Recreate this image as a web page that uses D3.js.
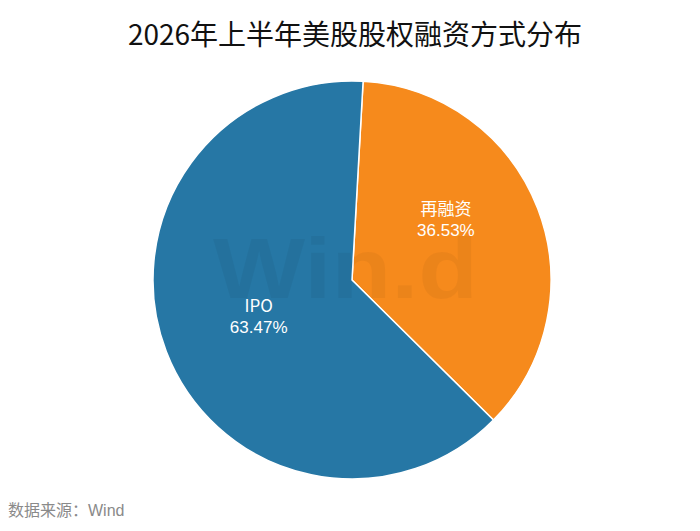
<!DOCTYPE html>
<html>
<head>
<meta charset="utf-8">
<script src="https://cdn.jsdelivr.net/npm/d3@7"></script>
<style>
  body { margin: 0; background: #fff; }
  svg { display: block; }
</style>
</head>
<body>
<div id="chart"></div>
<script>
// data
const categories = ["再融资", "IPO"];
const shares = [36.53, 63.47];
const colors = ["#f68a1c", "#2677a5"];

const width = 700;
const height = 531;
const cx = 352, cy = 280, radius = 199;

const svg = d3.select("#chart")
  .append("svg")
  .attr("width", width)
  .attr("height", height);

// title
svg.append("text")
  .attr("x", 355)
  .attr("y", 45)
  .attr("text-anchor", "middle")
  .attr("font-family", "'Noto Sans CJK SC', 'Noto Sans', sans-serif")
  .attr("font-size", 28)
  .attr("fill", "#111")
  .text("2026年上半年美股股权融资方式分布");

const data = categories.map((c, i) => ({ name: c, value: shares[i], color: colors[i] }));

// pie is rotated a little clockwise from 12 o'clock
const offset = 3.2 * Math.PI / 180;
const pie = d3.pie()
  .sort(null)
  .value(d => d.value)
  .startAngle(offset)
  .endAngle(offset + 2 * Math.PI);

const arc = d3.arc().innerRadius(0).outerRadius(radius);

const g = svg.append("g").attr("transform", `translate(${cx},${cy})`);

g.selectAll("path.slice")
  .data(pie(data))
  .enter()
  .append("path")
  .attr("class", "slice")
  .attr("d", arc)
  .attr("fill", d => d.data.color)
  .attr("stroke", "#fff")
  .attr("stroke-width", 1.5);

// faint watermark
svg.append("text")
  .attr("x", 213)
  .attr("y", 298)
  .attr("textLength", 265)
  .attr("lengthAdjust", "spacingAndGlyphs")
  .attr("font-family", "'Liberation Sans', Arial, sans-serif")
  .attr("font-weight", "bold")
  .attr("font-size", 86)
  .attr("fill", "#000")
  .attr("fill-opacity", 0.045)
  .text("Win.d");

// label nudges (the original places the orange label a bit higher)
const labelShift = { "再融资": -12 * Math.PI / 180, "IPO": 0 };
const labelR = { "再融资": 112, "IPO": 100 };

const labels = g.selectAll("text.lbl")
  .data(pie(data))
  .enter()
  .append("text")
  .attr("class", "lbl")
  .attr("text-anchor", "middle")
  .attr("font-family", "'Liberation Sans', 'Noto Sans CJK SC', Arial, sans-serif")
  .attr("font-size", 17)
  .attr("fill", "#fff")
  .attr("transform", d => {
    const a = (d.startAngle + d.endAngle) / 2 + labelShift[d.data.name];
    const r = labelR[d.data.name];
    return `translate(${r * Math.sin(a)},${-r * Math.cos(a)})`;
  });

labels.append("tspan")
  .attr("x", 0)
  .attr("y", -4)
  .attr("font-family", "'Noto Sans CJK SC', 'Liberation Sans', sans-serif")
  .text(d => d.data.name);

labels.append("tspan")
  .attr("x", 0)
  .attr("y", 17)
  .text(d => d.data.value.toFixed(2) + "%");

// source note
svg.append("text")
  .attr("x", 8)
  .attr("y", 516)
  .attr("font-family", "'Liberation Sans', 'Noto Sans CJK SC', sans-serif")
  .attr("font-size", 16)
  .attr("fill", "#8a8a8a")
  .text("数据来源：Wind");
</script>
</body>
</html>
